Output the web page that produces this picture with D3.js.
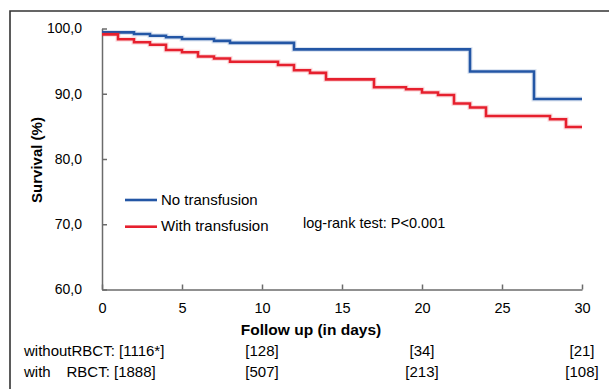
<!DOCTYPE html>
<meta charset="utf-8">
<title>Survival by transfusion</title>
<style>
  body { margin: 0; background: #fff; }
  svg { display: block; font-family: Arial, "Liberation Sans", sans-serif; }
  .axis path, .axis line { stroke: #6b6b6b; stroke-width: 1.5px; }
  .axis text { fill: #000; }
  .curve { fill: none; stroke-width: 2.6px; }
  .halo { fill: none; stroke-width: 5px; opacity: 0.15; }
</style>
<svg width="609" height="389"></svg>
<script src="https://cdn.jsdelivr.net/npm/d3@7"></script>
<script>
  // Kaplan-Meier steps
  var noTransDays = [0, 2, 3, 4, 5, 7, 8, 12, 23, 27, 30];
  var noTransSurv = [99.4, 99.15, 98.9, 98.65, 98.4, 98.1, 97.8, 96.8, 93.4, 89.2, 89.2];

  var transDays = [0, 1, 2, 3, 4, 5, 6, 7, 8, 11, 12, 13, 14, 17, 19, 20, 21, 22, 23, 24, 28, 29, 30];
  var transSurv = [99.1, 98.35, 97.9, 97.5, 96.7, 96.35, 95.7, 95.4, 94.9, 94.4, 93.6, 93.2, 92.2,
                   91.0, 90.7, 90.2, 89.8, 88.5, 87.9, 86.6, 86.1, 84.9, 84.9];

  var xTicks = [0, 5, 10, 15, 20, 25, 30];
  var yTicks = [60, 70, 80, 90, 100];

  var riskDays = [0, 10, 20, 30];
  var riskWithout = ["1116*", "128", "34", "21"];
  var riskWith = ["1888", "507", "213", "108"];

  var series = [
    { name: "No transfusion", color: "#2356a5", days: noTransDays, surv: noTransSurv },
    { name: "With transfusion", color: "#e6202e", days: transDays, surv: transSurv }
  ];

  var svg = d3.select("svg");

  // outer frame (only top and left edges show)
  svg.append("path")
    .attr("d", "M10,389V11H609")
    .attr("fill", "none")
    .attr("stroke", "#333")
    .attr("stroke-width", 1.6);

  var x = d3.scaleLinear().domain([0, 30]).range([102, 582]);
  var y = d3.scaleLinear().domain([60, 100]).range([289.5, 28.5]);

  var fmt = function(d) { return d3.format(".1f")(d).replace(".", ","); };

  var xAxis = svg.append("g")
    .attr("class", "axis")
    .attr("transform", "translate(0," + y(60) + ")")
    .call(d3.axisBottom(x).tickValues(xTicks).tickSizeInner(-5).tickSizeOuter(0).tickPadding(10));
  xAxis.selectAll("text").style("font-size", "14.5px").attr("dy", "0.9em");

  var yAxis = svg.append("g")
    .attr("class", "axis")
    .attr("transform", "translate(" + x(0) + ",0)")
    .call(d3.axisLeft(y).tickValues(yTicks).tickFormat(fmt).tickSizeInner(-5).tickSizeOuter(0).tickPadding(20));
  yAxis.selectAll("text").style("font-size", "14px");

  // axis titles
  svg.append("text")
    .attr("x", 311)
    .attr("y", 335)
    .attr("text-anchor", "middle")
    .style("font-size", "15.5px")
    .style("font-weight", "bold")
    .text("Follow up (in days)");

  svg.append("text")
    .attr("transform", "translate(42,160) rotate(-90)")
    .attr("text-anchor", "middle")
    .style("font-size", "15px")
    .style("font-weight", "bold")
    .text("Survival (%)");

  // curves
  var line = d3.line()
    .curve(d3.curveStepAfter)
    .x(function(d) { return x(d[0]); })
    .y(function(d) { return y(d[1]); });

  series.forEach(function(s) {
    var pts = d3.zip(s.days, s.surv);
    svg.append("path").attr("class", "halo").attr("stroke", s.color).attr("d", line(pts));
    svg.append("path").attr("class", "curve").attr("stroke", s.color).attr("d", line(pts));
  });

  // legend
  var legend = svg.append("g").selectAll("g")
    .data(series)
    .enter().append("g")
    .attr("transform", function(d, i) { return "translate(125," + (200 + i * 26.7) + ")"; });

  legend.append("line")
    .attr("x1", 0).attr("x2", 32)
    .attr("stroke", function(d) { return d.color; })
    .attr("stroke-width", 2.6);

  legend.append("text")
    .attr("x", 36)
    .attr("y", 4.5)
    .style("font-size", "15px")
    .text(function(d) { return d.name; });

  svg.append("text")
    .attr("x", 303)
    .attr("y", 228)
    .style("font-size", "14.5px")
    .text("log-rank test: P<0.001");

  // numbers at risk
  var risk = svg.append("g").style("font-size", "15px");

  risk.append("text").attr("x", 24).attr("y", 356)
    .text("withoutRBCT: [" + riskWithout[0] + "]");
  risk.append("text").attr("x", 24).attr("y", 377).text("with");
  risk.append("text").attr("x", 66.5).attr("y", 377)
    .text("RBCT: [" + riskWith[0] + "]");

  risk.selectAll(".r1")
    .data(riskDays.slice(1))
    .enter().append("text")
    .attr("x", function(d) { return x(d); })
    .attr("y", 356)
    .attr("text-anchor", "middle")
    .text(function(d, i) { return "[" + riskWithout[i + 1] + "]"; });

  risk.selectAll(".r2")
    .data(riskDays.slice(1))
    .enter().append("text")
    .attr("x", function(d) { return x(d); })
    .attr("y", 377)
    .attr("text-anchor", "middle")
    .text(function(d, i) { return "[" + riskWith[i + 1] + "]"; });
</script>
